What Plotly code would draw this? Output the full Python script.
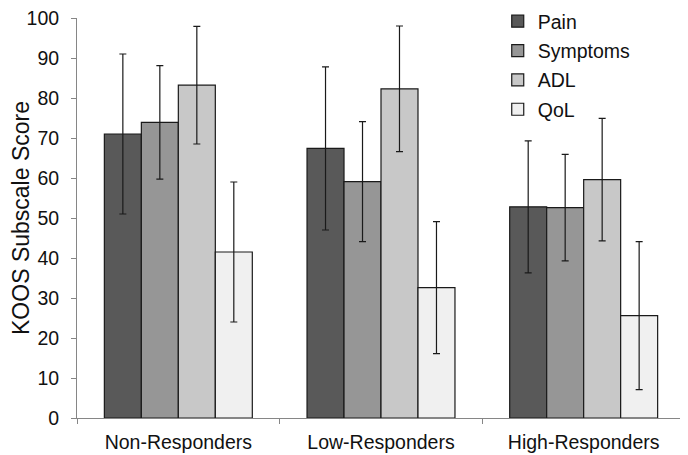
import plotly.graph_objects as go

categories = ["Non-Responders", "Low-Responders", "High-Responders"]
series_names = ["Pain", "Symptoms", "ADL", "QoL"]
pain = [71.0, 67.4, 52.8]
pain_sd = [20.0, 20.4, 16.5]
symptoms = [73.9, 59.1, 52.6]
symptoms_sd = [14.2, 15.0, 13.3]
adl = [83.2, 82.3, 59.6]
adl_sd = [14.7, 15.7, 15.3]
qol = [41.5, 32.6, 25.6]
qol_sd = [17.5, 16.5, 18.5]
colors = ["#595959", "#969696", "#c8c8c8", "#f0f0f0"]
y_ticks = [0, 10, 20, 30, 40, 50, 60, 70, 80, 90, 100]

FONT = "Liberation Sans, Arial, sans-serif"
fig = go.Figure()
for i, (name, vals, sds) in enumerate(zip(series_names, [pain, symptoms, adl, qol],
                                          [pain_sd, symptoms_sd, adl_sd, qol_sd])):
    fig.add_trace(go.Bar(
        name=name, x=categories, y=vals,
        marker=dict(color=colors[i], line=dict(color="#1a1a1a", width=1.2)),
        error_y=dict(type="data", array=sds, visible=True, color="#1a1a1a",
                     thickness=1.2, width=3.5),
        legendgroup=name,
    ))

# the page body adds an 8px margin, so the figure is 8px smaller on each axis
fig.update_layout(
    width=680, height=447,
    barmode="group", bargap=0.27, bargroupgap=0,
    margin=dict(l=69, r=3, t=10, b=37, autoexpand=False),
    paper_bgcolor="white", plot_bgcolor="white",
    font=dict(family=FONT, size=19.5, color="#111111"),
    legend=dict(x=0.692, y=1.04, xanchor="left", yanchor="top",
                font=dict(size=19.5), tracegroupgap=1, bgcolor="rgba(0,0,0,0)",
                itemwidth=30),
    showlegend=True,
)
fig.update_xaxes(showline=True, linecolor="#868686", linewidth=1,
                 ticks="outside", tickson="boundaries", ticklen=5, tickcolor="#868686",
                 showgrid=False, ticklabelstandoff=7, ticklabeloverflow="allow")
fig.update_yaxes(range=[0, 100], tickvals=y_ticks, showline=True, linecolor="#868686",
                 linewidth=1, ticks="outside", ticklen=5, tickcolor="#868686",
                 showgrid=False, zeroline=False, ticklabelstandoff=8,
                 ticklabeloverflow="allow",
                 title=dict(text="KOOS Subscale Score", standoff=0))
fig.write_html("out.html")
